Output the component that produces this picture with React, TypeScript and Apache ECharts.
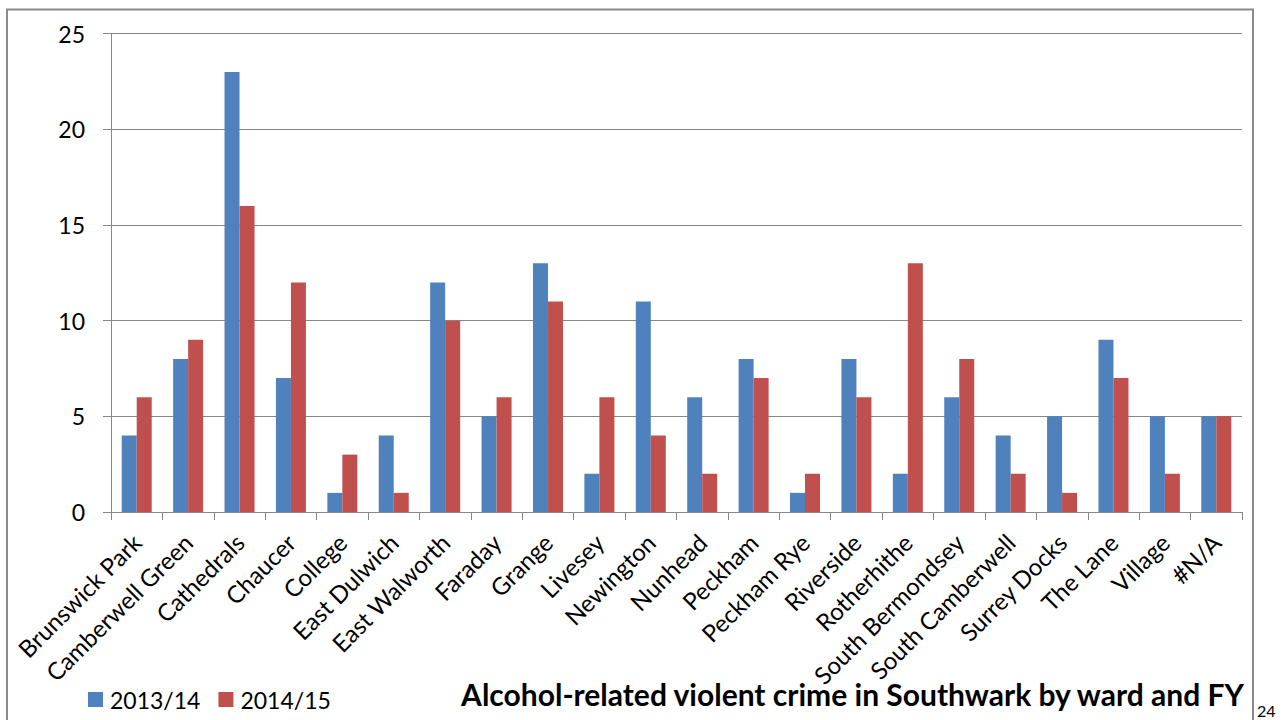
import React, { useEffect, useRef } from "react";
import * as echarts from "echarts";

const wards = [
  "Brunswick Park",
  "Camberwell Green",
  "Cathedrals",
  "Chaucer",
  "College",
  "East Dulwich",
  "East Walworth",
  "Faraday",
  "Grange",
  "Livesey",
  "Newington",
  "Nunhead",
  "Peckham",
  "Peckham Rye",
  "Riverside",
  "Rotherhithe",
  "South Bermondsey",
  "South Camberwell",
  "Surrey Docks",
  "The Lane",
  "Village",
  "#N/A",
];

const fy1314 = [4, 8, 23, 7, 1, 4, 12, 5, 13, 2, 11, 6, 8, 1, 8, 2, 6, 4, 5, 9, 5, 5];
const fy1415 = [6, 9, 16, 12, 3, 1, 10, 6, 11, 6, 4, 2, 7, 2, 6, 13, 8, 2, 1, 7, 2, 5];

const seriesNames = ["2013/14", "2014/15"];
const yTicks = [0, 5, 10, 15, 20, 25];

const titleText = "Alcohol-related violent crime in Southwark by ward and FY";
const pageNumber = "24";

const FONT = "Lato";
const GRID_GREY = "#878787";

export default function App() {
  const ref = useRef<HTMLDivElement>(null);

  useEffect(() => {
    if (!ref.current) return;
    const chart = echarts.init(ref.current, null, { renderer: "svg" });
    chart.setOption({
      animation: false,
      backgroundColor: "#ffffff",
      textStyle: { fontFamily: FONT },
      color: ["#4F81BD", "#C0504D"],
      title: {
        text: titleText,
        right: 36,
        top: 679,
        padding: 0,
        textStyle: {
          fontFamily: FONT,
          fontWeight: "bold",
          fontSize: 30,
          color: "#000000",
        },
      },
      legend: {
        left: 88,
        top: 688,
        padding: 0,
        itemWidth: 15,
        itemHeight: 15,
        itemGap: 18,
        icon: "rect",
        textStyle: {
          fontFamily: FONT,
          fontSize: 23,
          color: "#000000",
          padding: [0, 0, 0, 2],
        },
        data: seriesNames,
      },
      grid: {
        left: 111,
        right: 40,
        top: 33.7,
        bottom: 208,
        containLabel: false,
      },
      xAxis: {
        type: "category",
        data: wards,
        axisLine: { lineStyle: { color: GRID_GREY, width: 1 } },
        axisTick: {
          show: true,
          interval: 0,
          length: 8,
          lineStyle: { color: GRID_GREY, width: 1 },
        },
        axisLabel: {
          interval: 0,
          rotate: 45,
          margin: 26,
          fontFamily: FONT,
          fontSize: 24,
          color: "#000000",
        },
      },
      yAxis: {
        type: "value",
        min: yTicks[0],
        max: yTicks[yTicks.length - 1],
        interval: 5,
        axisLine: { show: true, lineStyle: { color: GRID_GREY, width: 1 } },
        axisTick: {
          show: true,
          length: 8,
          lineStyle: { color: GRID_GREY, width: 1 },
        },
        splitLine: { show: true, lineStyle: { color: GRID_GREY, width: 1 } },
        axisLabel: {
          margin: 26,
          fontFamily: FONT,
          fontSize: 23,
          color: "#000000",
        },
      },
      series: [
        {
          name: seriesNames[0],
          type: "bar",
          data: fy1314,
          barWidth: 15,
          barGap: "0%",
        },
        {
          name: seriesNames[1],
          type: "bar",
          data: fy1415,
          barWidth: 15,
          barGap: "0%",
        },
      ],
      graphic: [
        {
          type: "rect",
          silent: true,
          z: -1,
          shape: { x: 7, y: 9.5, width: 1246, height: 800 },
          style: { fill: "none", stroke: "#8a8a8a", lineWidth: 2 },
        },
        {
          type: "text",
          left: 1257,
          top: 702,
          style: {
            text: pageNumber,
            fontFamily: FONT,
            fontSize: 16,
            fill: "#000000",
          },
        },
      ],
    });
    return () => chart.dispose();
  }, []);

  return (
    <div
      ref={ref}
      style={{ position: "fixed", left: 0, top: 0, width: 1282, height: 720 }}
    />
  );
}
